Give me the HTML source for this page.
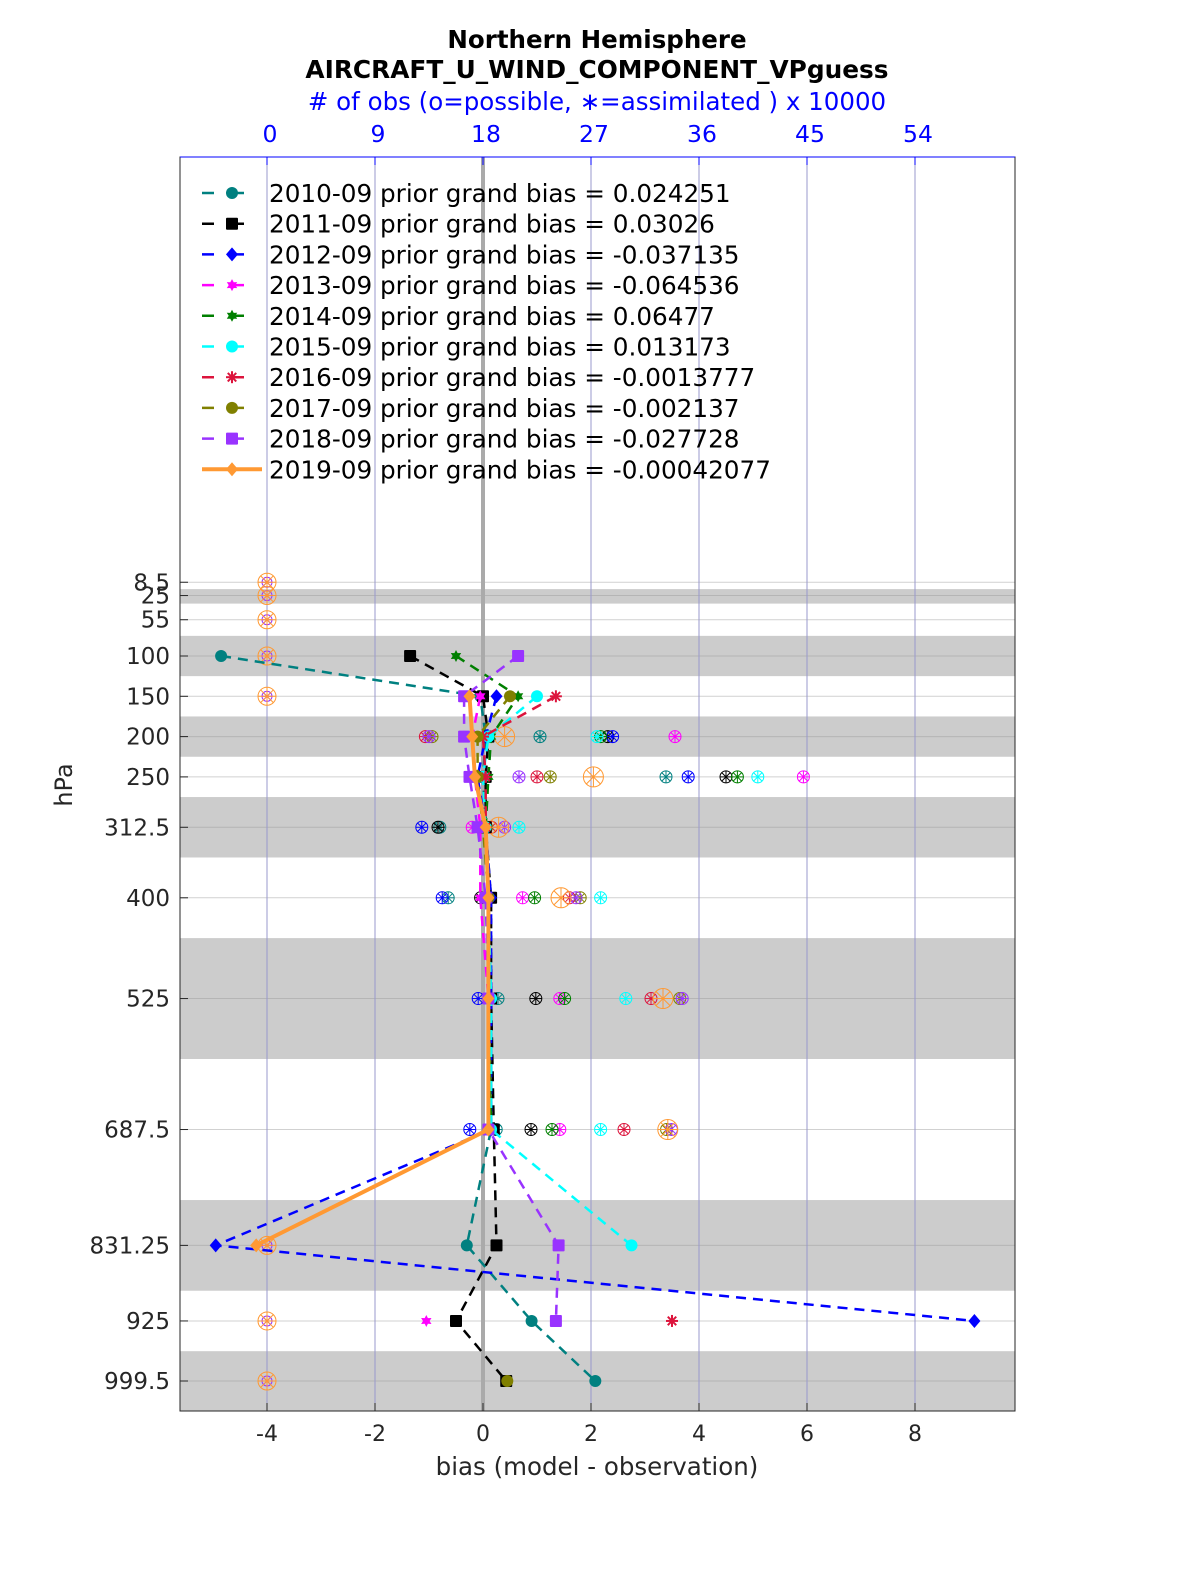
<!DOCTYPE html>
<html><head><meta charset="utf-8"><style>
body{margin:0;background:#fff}
svg text{font-family:"DejaVu Sans","Liberation Sans",sans-serif}
</style></head><body>
<svg id="chart" width="1200" height="1575" xmlns="http://www.w3.org/2000/svg">
<text x="597" y="48" font-size="24.5" font-weight="bold" text-anchor="middle">Northern Hemisphere</text>
<text x="597" y="78" font-size="24.8" font-weight="bold" text-anchor="middle">AIRCRAFT_U_WIND_COMPONENT_VPguess</text>
<text x="597" y="110" font-size="24.5" fill="#0000ff" text-anchor="middle"># of obs (o=possible, ∗=assimilated ) x 10000</text>
<text x="597" y="1475" font-size="24.5" fill="#262626" text-anchor="middle">bias (model - observation)</text>
<text transform="translate(72,785) rotate(-90)" font-size="24" fill="#262626" text-anchor="middle">hPa</text>
<g id="bands"></g><g id="grid"></g><g id="obs"></g><g id="lines"></g><g id="axes"></g><g id="legend"></g>
</svg>
<script>
const levels=[8.5,25,55,100,150,200,250,312.5,400,525,687.5,831.25,925,999.5];
const bandEdges=[[17,35],[75,125],[175,225],[275,350],[450,600],[775,887.5],[962.5,1040]];
const xTicks=[-4,-2,0,2,4,6,8];
const topTicks=[0,9,18,27,36,45,54];
const years=["2010-09","2011-09","2012-09","2013-09","2014-09","2015-09","2016-09","2017-09","2018-09","2019-09"];
const grandBias=["0.024251","0.03026","-0.037135","-0.064536","0.06477","0.013173","-0.0013777","-0.002137","-0.027728","-0.00042077"];
const colors=["#008080","#000000","#0000ff","#ff00ff","#007f00","#00ffff","#dc143c","#808000","#9933ff","#ff9933"];
const markers=["circle","square","diamond","star","star","circle","asterisk","circle","square","diamond"];
const N=null;
const bias2010=[N,N,N,-4.85,-0.05,0.05,0.0,0.05,0.1,0.15,0.15,-0.3,0.9,2.08];
const bias2011=[N,N,N,-1.35,0.0,0.1,0.05,0.05,0.15,0.15,0.2,0.25,-0.5,0.43];
const bias2012=[N,N,N,N,0.25,0.05,-0.1,0.05,0.15,0.15,0.15,-4.95,9.1,N];
const bias2013=[N,N,N,N,-0.05,-0.2,-0.15,-0.05,-0.05,0.1,0.1,N,-1.05,N];
const bias2014=[N,N,N,-0.5,0.65,0.15,0.1,0.05,0.1,0.1,0.15,N,N,N];
const bias2015=[N,N,N,N,1.0,0.1,0.0,0.05,0.1,0.15,0.15,2.75,N,N];
const bias2016=[N,N,N,N,1.35,0.0,0.05,0.05,0.1,0.1,0.1,N,3.5,N];
const bias2017=[N,N,N,N,0.5,-0.1,-0.1,0.0,0.1,0.1,0.1,N,N,0.45];
const bias2018=[N,N,N,0.65,-0.35,-0.35,-0.25,-0.1,0.05,0.1,0.1,1.4,1.35,N];
const bias2019=[N,N,N,N,-0.25,-0.2,-0.15,0.05,0.1,0.1,0.1,-4.2,N,N];
const biasAll=[bias2010,bias2011,bias2012,bias2013,bias2014,bias2015,bias2016,bias2017,bias2018,bias2019];
const obsLevels=[200,250,312.5,400,525,687.5];
const obs2010=[22.75,33.25,14.4,15.1,19.25,19.1];
const obs2011=[28.4,38.25,14.25,17.8,22.4,22.0];
const obs2012=[28.8,35.1,12.9,14.6,17.6,16.9];
const obs2013=[34.0,44.7,17.1,21.3,24.4,24.4];
const obs2014=[27.8,39.2,17.9,22.3,24.8,23.75];
const obs2015=[27.5,40.9,21.0,27.8,29.9,27.8];
const obs2016=[13.2,22.5,18.7,25.2,32.0,29.75];
const obs2017=[13.75,23.6,18.3,26.1,34.4,33.3];
const obs2018=[13.5,21.0,19.8,25.75,34.6,33.7];
const obs2019=[19.8,27.2,19.3,24.5,33.0,33.4];
const obsAll=[obs2010,obs2011,obs2012,obs2013,obs2014,obs2015,obs2016,obs2017,obs2018,obs2019];
const zeroObsLevels=[8.5,25,55,100,150,831.25,925,999.5];

const L=180,R=1015,T=157,B=1411;
const xs=v=>483+v*54;
const xo=n=>267+n*12;
const ys=p=>656+(p-100)*0.806;
const NS="http://www.w3.org/2000/svg";
function mk(tag,attrs,parent){const e=document.createElementNS(NS,tag);for(const k in attrs)e.setAttribute(k,attrs[k]);parent.appendChild(e);return e;}
const g=id=>document.getElementById(id);

bandEdges.forEach(b=>{
  const r=mk('rect',{x:L,y:ys(b[0]),width:R-L,height:Math.min(ys(b[1]),B)-ys(b[0]),fill:'#cccccc'},g('bands'));
  
  
});
levels.forEach(p=>{
  const l=mk('line',{x1:L,x2:R,y1:ys(p),y2:ys(p),stroke:'#999',"stroke-opacity":0.45,"stroke-width":1},g('grid'));
  
  
});
topTicks.forEach(t=>{
  const l=mk('line',{x1:xo(t),x2:xo(t),y1:T,y2:B,stroke:'#9999cc',"stroke-width":1},g('grid'));
  
  
});
const z=mk('line',{x1:xs(0),x2:xs(0),y1:T,y2:B,stroke:'#aaaaaa',"stroke-width":4},g('grid'));



function obsMarker(cx,cy,col,r,parent){
  const grp=mk('g',{stroke:col,fill:'none',"stroke-width":1},parent);
  mk('circle',{cx:cx,cy:cy,r:r},grp);
  for(let a=0;a<4;a++){const an=a*Math.PI/4;mk('line',{x1:cx-r*Math.cos(an),y1:cy-r*Math.sin(an),x2:cx+r*Math.cos(an),y2:cy+r*Math.sin(an)},grp);}
  return grp;
}
obsAll.forEach((arr,i)=>{
  const r=i===9?10:6;
  arr.forEach((n,j)=>{
    const m=obsMarker(xo(n),ys(obsLevels[j]),colors[i],r,g('obs'));
    
    
  });
  if(i===9||i===8){zeroObsLevels.forEach(p=>{
    const m=obsMarker(xo(0),ys(p),colors[i],i===9?9:5,g('obs'));
    
    
  });}
});

function drawMarker(type,cx,cy,col,parent,s){
  s=s||6;
  if(type==='circle')return mk('circle',{cx:cx,cy:cy,r:s,fill:col},parent);
  if(type==='square')return mk('rect',{x:cx-s,y:cy-s,width:2*s,height:2*s,fill:col,rx:1},parent);
  if(type==='diamond')return mk('polygon',{points:`${cx},${cy-s-1} ${cx+s},${cy} ${cx},${cy+s+1} ${cx-s},${cy}`,fill:col},parent);
  if(type==='star'){let pts=[];for(let k=0;k<12;k++){const rr=k%2?s*0.55:s;const an=k*Math.PI/6-Math.PI/2;pts.push((cx+rr*Math.cos(an)).toFixed(1)+','+(cy+rr*Math.sin(an)).toFixed(1));}return mk('polygon',{points:pts.join(' '),fill:col},parent);}
  const grp=mk('g',{stroke:col,"stroke-width":2},parent);
  for(let a=0;a<4;a++){const an=a*Math.PI/4;mk('line',{x1:cx-s*Math.cos(an),y1:cy-s*Math.sin(an),x2:cx+s*Math.cos(an),y2:cy+s*Math.sin(an)},grp);}
  return grp;
}
biasAll.forEach((arr,i)=>{
  const sg=mk('g',{},g('lines'));
  
  
  let seg=[];
  const segs=[];
  arr.forEach((v,j)=>{if(v===null){if(seg.length)segs.push(seg);seg=[];}else seg.push([xs(v),ys(levels[j])]);});
  if(seg.length)segs.push(seg);
  segs.forEach(s=>{
    if(s.length>1){
      const pl=mk('polyline',{points:s.map(p=>p.join(',')).join(' '),fill:'none',stroke:colors[i],"stroke-width":i===9?4:2.5,"stroke-dasharray":i===9?'none':'10,7'},sg);
      
      
    }
    s.forEach(p=>{
      const m=drawMarker(markers[i],p[0],p[1],colors[i],sg);
      
      
    });
  });
});

const ax=g('axes');
const fr=mk('rect',{x:L,y:T,width:R-L,height:B-T,fill:'none',stroke:'#262626',"stroke-width":1},ax);


const tl=mk('line',{x1:L,x2:R,y1:T,y2:T,stroke:'#0000ff',"stroke-width":1},ax);


xTicks.forEach(t=>{
  mk('line',{x1:xs(t),x2:xs(t),y1:B,y2:B-8,stroke:'#262626'},ax);
  const tx=mk('text',{x:xs(t),y:B+30,"font-size":22,fill:'#262626',"text-anchor":'middle'},ax);
  tx.textContent=t;
  
  
});
topTicks.forEach(t=>{
  mk('line',{x1:xo(t),x2:xo(t),y1:T,y2:T+8,stroke:'#0000ff'},ax);
  const tx=mk('text',{x:xo(t)+3,y:T-15,"font-size":23.5,fill:'#0000ff',"text-anchor":'middle'},ax);
  tx.textContent=t;
  
  
});
levels.forEach(p=>{
  mk('line',{x1:L,x2:L+8,y1:ys(p),y2:ys(p),stroke:'#262626'},ax);
  const tx=mk('text',{x:L-10,y:ys(p)+8,"font-size":23,fill:'#262626',"text-anchor":'end'},ax);
  tx.textContent=p;
  
  
});

const lg=g('legend');
years.forEach((yr,i)=>{
  const y=193+i*30.7;
  const it=mk('g',{},lg);
  
  
  mk('line',{x1:202,x2:262,y1:y,y2:y,stroke:colors[i],"stroke-width":i===9?4:2.5,"stroke-dasharray":i===9?'none':'12,18'},it);
  drawMarker(markers[i],232,y,colors[i],it);
  const tx=mk('text',{x:269,y:y+9,"font-size":24.7,fill:'#000'},it);
  tx.textContent=yr+' prior grand bias = '+grandBias[i];
});
</script>
</body></html>
